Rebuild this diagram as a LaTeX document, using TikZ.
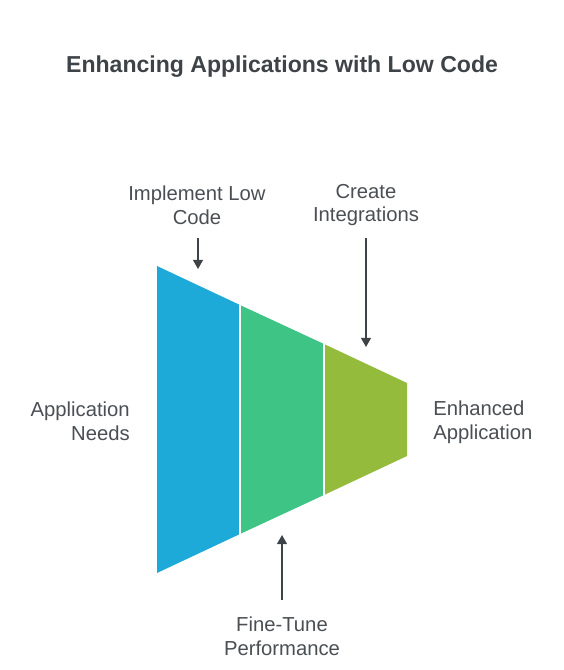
\documentclass[tikz,border=0pt]{standalone}
\usepackage{fontspec}
\setmainfont{Liberation Sans}
\usetikzlibrary{arrows.meta,positioning}
\definecolor{ink}{RGB}{62,67,71}
\definecolor{txt}{RGB}{74,79,84}
\definecolor{stepblue}{RGB}{30,170,217}
\definecolor{stepgreen}{RGB}{62,197,133}
\definecolor{stepolive}{RGB}{148,187,59}

\begin{document}
\begin{tikzpicture}[x=0.025cm, y=-0.025cm,
lbl/.style={font=\fontsize{14.4}{17}\selectfont, text=txt, align=center, inner sep=0pt},
seg/.style={draw=white, line width=1.2pt, line join=miter},
arrow/.style={-{Triangle[length=2.3mm, width=2.5mm]}, draw=ink, line width=1pt}]
\useasboundingbox (0,0) rectangle (564,670);
% title
\node[font=\bfseries\fontsize{16.4}{19}\selectfont, text=ink] (title) at (282,67) {Enhancing Applications with Low Code};
% funnel segments
\fill[stepblue] (157,266) -- (240,305) -- (240,534) -- (157,573) -- cycle;
\fill[stepgreen] (240,305) -- (324,344) -- (324,495) -- (240,534) -- cycle;
\fill[stepolive] (324,344) -- (407,383) -- (407,456) -- (324,495) -- cycle;
\draw[seg] (240,303) -- (240,536);
\draw[seg] (324,342) -- (324,497);
% labels
\node[lbl] (impl) at (197,205) {Implement Low\\Code};
\node[lbl] (integ) at (366,205) {Create\\Integrations};
\node[lbl, align=right, anchor=east] (needs) at (130,421) {Application\\Needs};
\node[lbl, align=left, anchor=west] (enh) at (433,422) {Enhanced\\Application};
\node[lbl] (tune) at (282,636) {Fine-Tune\\Performance};
% arrows
\coordinate (implin) at (198,269);
\coordinate (integin) at (366,347);
\coordinate (tunein) at (282,535);
\draw[arrow] (198,238) coordinate (implout) -- (implin);
\draw[arrow] (366,238) coordinate (integout) -- (integin);
\draw[arrow] (282,600) coordinate (tuneout) -- (tunein);
\end{tikzpicture}
\end{document}
